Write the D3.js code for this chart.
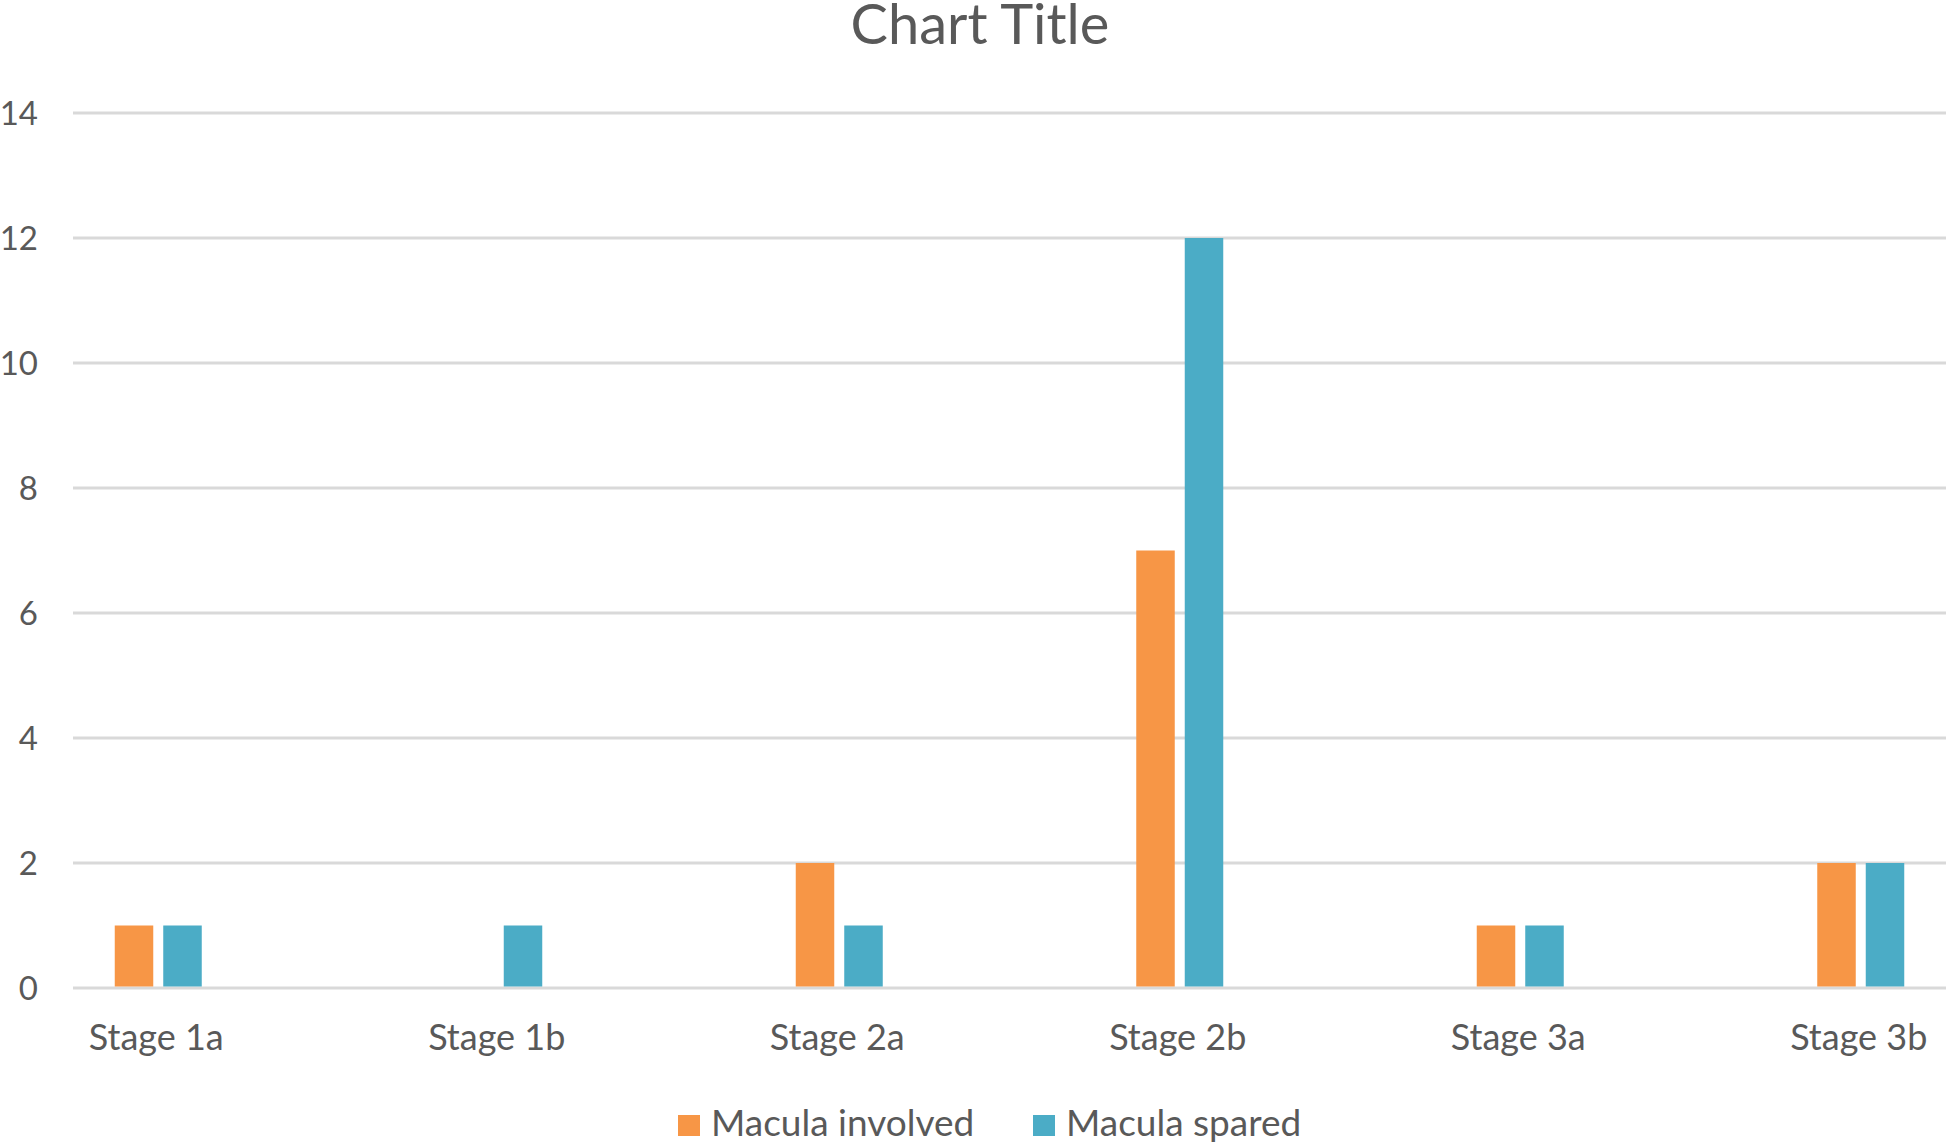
<!doctype html>
<html>
<head>
<meta charset="UTF-8">
<title>Chart Title</title>
<script src="https://d3js.org/d3.v7.min.js"></script>
<style>
  body { margin: 0; background: #fff; }
  text { font-family: Lato, "Open Sans", sans-serif; fill: #595959; }
  .grid line { stroke: #d9d9d9; stroke-width: 3; }
</style>
</head>
<body>
<svg id="chart" width="1946" height="1144"></svg>
<script>
var categories = ["Stage 1a", "Stage 1b", "Stage 2a", "Stage 2b", "Stage 3a", "Stage 3b"];
var seriesNames = ["Macula involved", "Macula spared"];
var involved = [1, 0, 2, 7, 1, 2];
var spared = [1, 1, 1, 12, 1, 2];
var yTicks = [0, 2, 4, 6, 8, 10, 12, 14];
var colors = ["#f79646", "#4bacc6"];

var svg = d3.select("#chart");

// plot area is wider than the picture, it is cut on both sides
var x0 = d3.scaleBand().domain(categories).range([-12, 2031]);
var x1 = d3.scaleBand().domain(seriesNames).range([-43.5, 43.5]).paddingInner(0.206);
var y = d3.scaleLinear().domain([0, 14]).range([988, 113]);
var color = d3.scaleOrdinal().domain(seriesNames).range(colors);

// gridlines
svg.append("g").attr("class", "grid")
  .selectAll("line")
  .data(yTicks)
  .enter().append("line")
  .attr("x1", 73).attr("x2", 1946)
  .attr("y1", function (d) { return y(d); })
  .attr("y2", function (d) { return y(d); });

// y labels
svg.append("g")
  .selectAll("text")
  .data(yTicks)
  .enter().append("text")
  .attr("x", 38)
  .attr("y", function (d) { return y(d); })
  .attr("dy", "0.36em")
  .attr("text-anchor", "end")
  .style("font-size", "33px")
  .text(function (d) { return d; });

var rows = categories.map(function (c, i) {
  return { cat: c, values: [
    { name: seriesNames[0], v: involved[i] },
    { name: seriesNames[1], v: spared[i] }
  ] };
});

var groups = svg.append("g")
  .selectAll("g")
  .data(rows)
  .enter().append("g")
  .attr("transform", function (d) {
    return "translate(" + (x0(d.cat) + x0.bandwidth() / 2) + ",0)";
  });

groups.selectAll("rect")
  .data(function (d) { return d.values.filter(function (e) { return e.v > 0; }); })
  .enter().append("rect")
  .attr("x", function (d) { return x1(d.name); })
  .attr("width", x1.bandwidth())
  .attr("y", function (d) { return y(d.v); })
  .attr("height", function (d) { return y(0) - y(d.v) - 1.5; })
  .attr("fill", function (d) { return color(d.name); });

// category labels
svg.append("g")
  .selectAll("text")
  .data(categories)
  .enter().append("text")
  .attr("x", function (d) { return x0(d) + x0.bandwidth() / 2 - 2; })
  .attr("y", 1050)
  .attr("text-anchor", "middle")
  .style("font-size", "36px")
  .text(function (d) { return d; });

// title
svg.append("text")
  .attr("x", 980)
  .attr("y", 44)
  .attr("text-anchor", "middle")
  .style("font-size", "56px")
  .text("Chart Title");

// legend
var legendX = [678, 1033];
var legend = svg.append("g")
  .selectAll("g")
  .data(seriesNames)
  .enter().append("g")
  .attr("transform", function (d, i) { return "translate(" + legendX[i] + ",0)"; });

legend.append("rect")
  .attr("x", 0).attr("y", 1115)
  .attr("width", 22).attr("height", 21)
  .attr("fill", function (d) { return color(d); });

legend.append("text")
  .attr("x", 33)
  .attr("y", 1136)
  .style("font-size", "37px")
  .text(function (d) { return d; });
</script>
</body>
</html>
